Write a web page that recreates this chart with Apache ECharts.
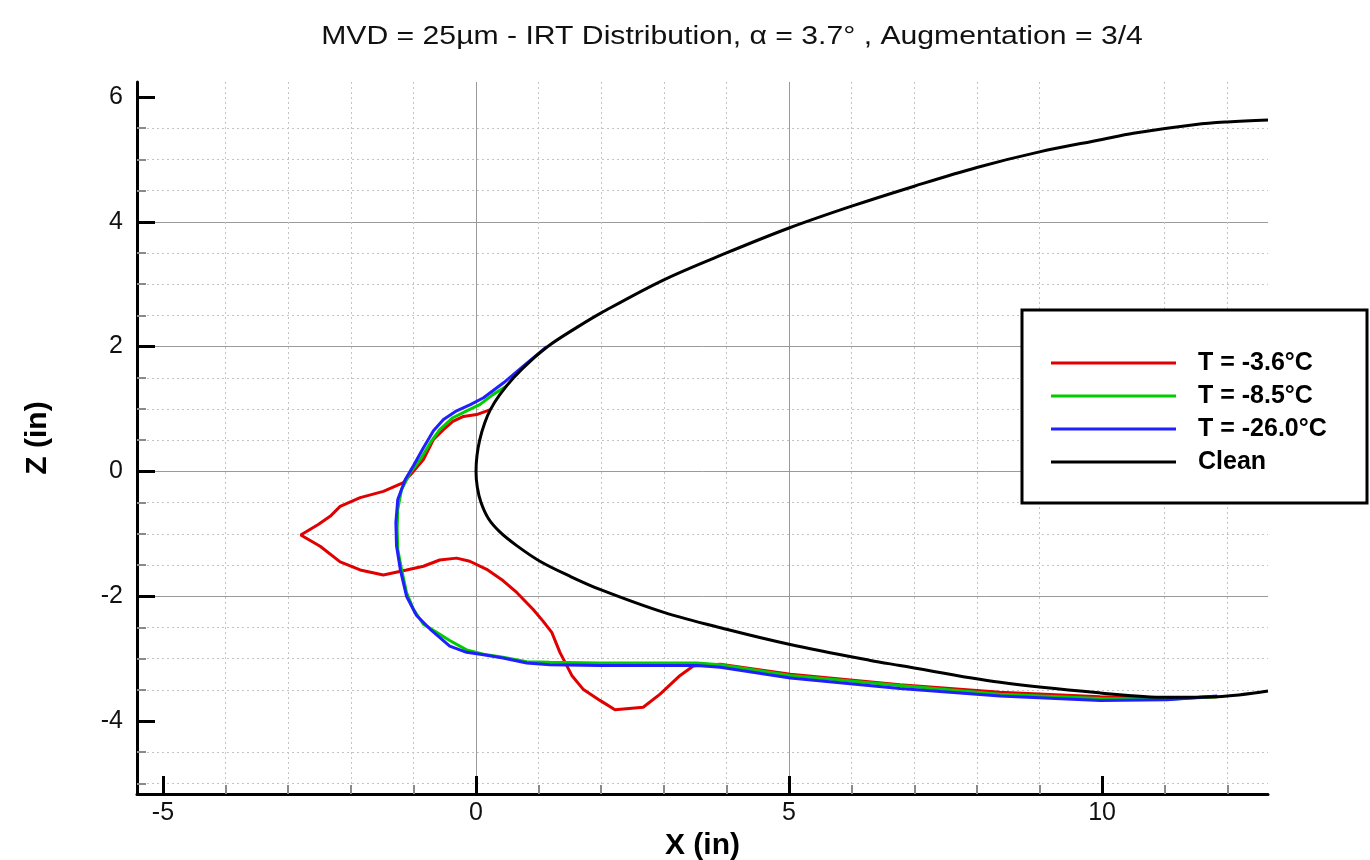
<!DOCTYPE html>
<html>
<head>
<meta charset="utf-8">
<script src="https://cdn.jsdelivr.net/npm/echarts@6/dist/echarts.min.js"></script>
<style>html,body{margin:0;padding:0;background:#fff}#c{width:1370px;height:860px}</style>
</head>
<body>
<div id="c"></div>
<script>
// ---- data (X in inches, Z in inches) ----
const seriesNames = ['T = -3.6°C', 'T = -8.5°C', 'T = -26.0°C', 'Clean'];
const seriesColors = ['#e00000', '#00cc00', '#1f1fff', '#000000'];

const iceRed = [
  [0.23,0.99],[0.01,0.91],[-0.2,0.88],[-0.37,0.8],[-0.52,0.67],[-0.68,0.51],[-0.84,0.19],[-1.0,0.0],
  [-1.16,-0.18],[-1.48,-0.32],[-1.85,-0.42],[-2.17,-0.56],[-2.33,-0.72],[-2.52,-0.85],[-2.8,-1.02],
  [-2.49,-1.2],[-2.17,-1.45],[-1.85,-1.58],[-1.48,-1.66],[-1.11,-1.58],[-0.84,-1.52],[-0.58,-1.42],
  [-0.31,-1.39],[-0.1,-1.44],[0.17,-1.57],[0.43,-1.75],[0.65,-1.94],[0.91,-2.21],[1.07,-2.4],
  [1.21,-2.58],[1.34,-2.9],[1.53,-3.27],[1.71,-3.49],[1.98,-3.67],[2.22,-3.82],[2.67,-3.78],
  [2.94,-3.57],[3.26,-3.27],[3.47,-3.12],[3.9,-3.09],[5.02,-3.25],[6.77,-3.42],[8.37,-3.54],
  [9.97,-3.61],[11.04,-3.64],[11.84,-3.61]
];

const iceGreen = [
  [0.49,1.37],[0.27,1.23],[0.06,1.07],[-0.15,0.97],[-0.37,0.86],[-0.58,0.67],[-0.73,0.46],[-0.89,0.19],
  [-1.05,-0.02],[-1.19,-0.29],[-1.25,-0.61],[-1.26,-0.93],[-1.25,-1.25],[-1.19,-1.57],[-1.11,-1.94],
  [-1.0,-2.21],[-0.84,-2.45],[-0.63,-2.58],[-0.42,-2.71],[-0.15,-2.86],[0.12,-2.93],[0.43,-2.98],
  [0.81,-3.05],[1.18,-3.06],[1.98,-3.07],[3.53,-3.07],[3.9,-3.1],[5.02,-3.27],[6.77,-3.43],
  [8.37,-3.57],[9.97,-3.64],[11.04,-3.65],[11.84,-3.61]
];

const iceBlue = [
  [1.13,2.0],[0.76,1.69],[0.44,1.42],[0.12,1.18],[-0.09,1.07],[-0.31,0.97],[-0.52,0.83],[-0.68,0.65],
  [-0.84,0.38],[-1.0,0.09],[-1.13,-0.13],[-1.25,-0.45],[-1.28,-0.82],[-1.27,-1.19],[-1.21,-1.57],
  [-1.11,-2.0],[-0.95,-2.31],[-0.73,-2.53],[-0.42,-2.8],[-0.15,-2.9],[0.12,-2.94],[0.43,-2.99],
  [0.81,-3.07],[1.18,-3.1],[1.98,-3.11],[3.53,-3.11],[3.9,-3.14],[5.02,-3.31],[6.77,-3.48],
  [8.37,-3.6],[9.97,-3.67],[11.04,-3.66],[11.84,-3.6]
];

const cleanAirfoil = [
  [12.65,5.63],[12,5.6],[11.5,5.56],[10.5,5.42],[10,5.32],[9,5.12],[8,4.87],[7,4.57],[6,4.25],
  [5,3.9],[4,3.5],[3,3.07],[2,2.54],[1.6,2.3],[1.2,2.04],[0.86,1.76],[0.6,1.5],[0.38,1.23],
  [0.23,0.99],[0.14,0.78],[0.06,0.51],[0.015,0.25],[0,0],[0.02,-0.25],[0.08,-0.5],[0.2,-0.76],
  [0.38,-0.97],[0.65,-1.19],[1.02,-1.44],[1.5,-1.68],[2,-1.9],[3,-2.26],[4,-2.53],[5,-2.77],[6.3,-3.03],
  [6.77,-3.11],[8.37,-3.38],[9.97,-3.55],[11.04,-3.62],[11.84,-3.61],[12.65,-3.52]
];

const xTicks = [-5, 0, 5, 10];
const zTicks = [-4, -2, 0, 2, 4, 6];
const xRange = [-5.415, 12.65];
const zRange = [-5.17, 6.24];

const titleText = 'MVD = 25\u00b5m - IRT Distribution, \u03b1 = 3.7\u00b0 , Augmentation = 3/4';

// ---- chart ----
const chart = echarts.init(document.getElementById('c'), null, {renderer: 'canvas'});
const FONT = '"Liberation Sans", Arial, Helvetica, sans-serif';
const dataSets = [iceRed, iceGreen, iceBlue, cleanAirfoil];

const axisCommon = {
  type: 'value',
  axisLine: {show: true, onZero: false, lineStyle: {color: '#000', width: 3}},
  axisTick: {show: true, inside: true, length: 18, lineStyle: {color: '#000', width: 3}},
  minorTick: {show: true, length: 9, lineStyle: {color: '#8a8a8a', width: 2}},
  splitLine: {show: true, showMinLine: false, showMaxLine: false, lineStyle: {color: '#9a9a9a', width: 1}},
  minorSplitLine: {show: true, lineStyle: {color: '#c4c4c4', width: 1, type: [2, 3]}},
  nameLocation: 'middle',
  nameTextStyle: {fontFamily: FONT, fontSize: 30, fontWeight: 'bold', color: '#000'}
};

const option = {
  animation: false,
  backgroundColor: '#fff',
  grid: {left: 137, right: 102, top: 82, bottom: 66, containLabel: false, outerBoundsMode: 'none'},
  xAxis: Object.assign({}, axisCommon, {
    min: xRange[0], max: xRange[1], minInterval: 5, maxInterval: 5, splitNumber: 4,
    axisTick: Object.assign({}, axisCommon.axisTick, {customValues: xTicks}),
    minorTick: Object.assign({}, axisCommon.minorTick, {splitNumber: 5}),
    axisLabel: {customValues: xTicks, margin: 7, fontFamily: FONT, fontSize: 25, color: '#111'},
    name: 'X (in)', nameGap: 29
  }),
  yAxis: Object.assign({}, axisCommon, {
    min: zRange[0], max: zRange[1], minInterval: 2, maxInterval: 2, splitNumber: 5,
    axisTick: Object.assign({}, axisCommon.axisTick, {customValues: zTicks}),
    minorTick: Object.assign({}, axisCommon.minorTick, {splitNumber: 4}),
    axisLabel: {customValues: zTicks, margin: 14, fontFamily: FONT, fontSize: 25, color: '#111'},
    name: 'Z (in)', nameGap: 84
  }),
  legend: {
    data: seriesNames.map(n => ({name: n, icon: 'rect'})),
    orient: 'vertical',
    left: 1051, top: 350, padding: 0,
    itemWidth: 125, itemHeight: 3, itemGap: 7,
    z: 10,
    selectedMode: false,
    textStyle: {
      fontFamily: FONT, fontSize: 25, fontWeight: 'bold', color: '#000', lineHeight: 26,
      padding: [0, 0, 0, 17]
    }
  },
  graphic: [
    {type: 'rect', z: 5, shape: {x: 1022, y: 310, width: 345, height: 193},
     style: {fill: '#fff', stroke: '#000', lineWidth: 3}},
    {type: 'text', z: 10, x: 732, y: 37, scaleX: 1.16,
     style: {text: titleText, fontFamily: FONT, fontSize: 26, fill: '#111', align: 'center', verticalAlign: 'middle'}}
  ],
  series: seriesNames.map((n, i) => ({
    name: n, type: 'line', data: dataSets[i], symbol: 'none',
    smooth: i === 3 ? 0.35 : false,
    lineStyle: {color: seriesColors[i], width: 3},
    itemStyle: {color: seriesColors[i]},
    z: 2 + i
  }))
};
chart.setOption(option);
</script>
</body>
</html>
